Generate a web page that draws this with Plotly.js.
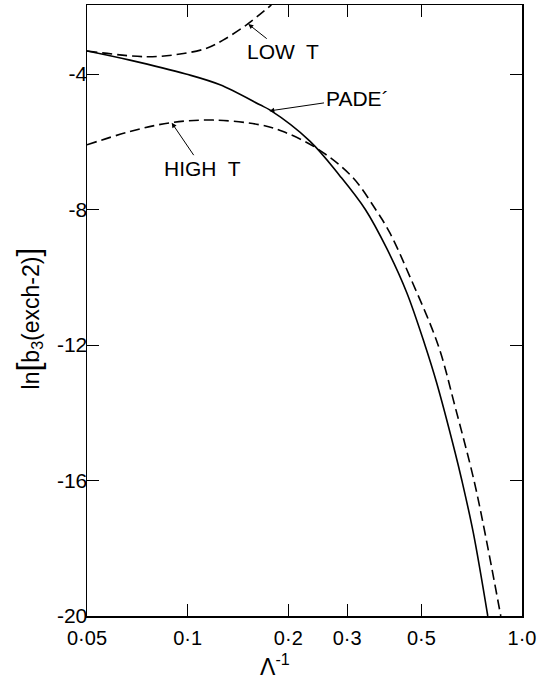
<!DOCTYPE html>
<html>
<head>
<meta charset="utf-8">
<script src="https://cdn.plot.ly/plotly-3.0.1.min.js"></script>
<style>html,body{margin:0;padding:0;background:#fff;}#chart{width:538px;height:679px;}</style>
</head>
<body>
<div id="chart"></div>
<script>
// Padé curve (solid)
const padeX = [0.05, 0.0672, 0.0988, 0.125, 0.1645, 0.176, 0.232, 0.285, 0.34, 0.394, 0.452, 0.5125, 0.555, 0.63, 0.661, 0.715, 0.79];
const padeY = [-3.32, -3.59, -4.0, -4.32, -4.91, -5.06, -5.98, -7.0, -8.0, -9.15, -10.45, -12.0, -13.1, -15.15, -16.0, -17.54, -20.0];
// Low-temperature expansion (dashed)
const lowX = [0.05, 0.0754, 0.0949, 0.114, 0.1276, 0.150, 0.178];
const lowY = [-3.32, -3.49, -3.41, -3.24, -3.0, -2.55, -1.96];
// High-temperature expansion (dashed)
const highX = [0.05, 0.0672, 0.0886, 0.119, 0.1645, 0.193, 0.243, 0.31, 0.365, 0.403, 0.462, 0.561, 0.63, 0.7185, 0.775, 0.864];
const highY = [-6.09, -5.70, -5.44, -5.36, -5.50, -5.70, -6.19, -7.03, -8.0, -8.70, -9.98, -12.0, -13.8, -16.0, -17.55, -20.0];
// Tick labels
const xTickVals = [0.05, 0.1, 0.2, 0.3, 0.5, 1.0];
const xTickText = ["0·05", "0·1", "0·2", "0·3", "0·5", "1·0"];
const yTickVals = [-20, -16, -12, -8, -4];
const yTickText = ["-20", "-16", "-12", "-8", "-4"];

const FONT = "Liberation Sans, Arial, sans-serif";
const L = Math.log10;

const traces = [
  {x: padeX, y: padeY, mode: "lines", line: {color: "#000", width: 1.6, shape: "spline", smoothing: 1}, hoverinfo: "skip"},
  {x: lowX, y: lowY, mode: "lines", line: {color: "#000", width: 1.6, dash: "10px,5px", shape: "spline", smoothing: 1}, hoverinfo: "skip"},
  {x: highX, y: highY, mode: "lines", line: {color: "#000", width: 1.6, dash: "10px,5px", shape: "spline", smoothing: 1}, hoverinfo: "skip"}
];

// label with arrow: head (hx,hy), text centred at (tx,ty)
const pointer = (hx, hy, tx, ty, t) => ({
  x: L(hx), y: hy, xref: "x", yref: "y", ax: L(tx), ay: ty, axref: "x", ayref: "y",
  text: t, showarrow: true, arrowhead: 2, arrowsize: 1, arrowwidth: 1, arrowcolor: "#000",
  xanchor: "center", yanchor: "middle", borderpad: 1,
  font: {family: FONT, size: 21, color: "#000"}
});

const layout = {
  width: 538, height: 679,
  margin: {l: 87, r: 16, t: 5, b: 63},
  paper_bgcolor: "#fff", plot_bgcolor: "#fff",
  showlegend: false,
  font: {family: FONT, size: 20, color: "#000"},
  xaxis: {
    type: "log", range: [L(0.05), 0], tickvals: xTickVals, ticktext: xTickText,
    ticks: "inside", ticklen: 12, tickwidth: 1, tickcolor: "#000",
    showline: true, linecolor: "#000", linewidth: 1.5, mirror: "ticks",
    showgrid: false, zeroline: false, tickfont: {family: FONT, size: 20, color: "#000"},
    ticklabelstandoff: 3
  },
  yaxis: {
    range: [-20, -1.963], tickvals: yTickVals, ticktext: yTickText,
    ticks: "inside", ticklen: 12, tickwidth: 1, tickcolor: "#000",
    showline: true, linecolor: "#000", linewidth: 1.5, mirror: "ticks",
    showgrid: false, zeroline: false, tickfont: {family: FONT, size: 21, color: "#000"},
    ticklabelstandoff: -6
  },
  annotations: [
    pointer(0.1518, -2.525, 0.193, -3.34, "LOW  T"),
    pointer(0.1755, -5.09, 0.321, -4.71, "PADE´"),
    pointer(0.0896, -5.44, 0.1108, -6.78, "HIGH  T"),
    {x: 0.432, y: -0.08, xref: "paper", yref: "paper", showarrow: false,
     text: "Λ<sup>-1</sup>", xanchor: "center", yanchor: "middle",
     font: {family: FONT, size: 23, color: "#000"}},
    {x: -0.1356, y: 0.487, xref: "paper", yref: "paper", showarrow: false, textangle: -90,
     text: "ln<span style='font-size:32px'>[</span>b<sub>3</sub>(exch-2)<span style='font-size:32px'>]</span>",
     xanchor: "center", yanchor: "middle",
     font: {family: FONT, size: 23, color: "#000"}}
  ]
};

Plotly.newPlot("chart", traces, layout, {staticPlot: true, displayModeBar: false});
</script>
</body>
</html>
